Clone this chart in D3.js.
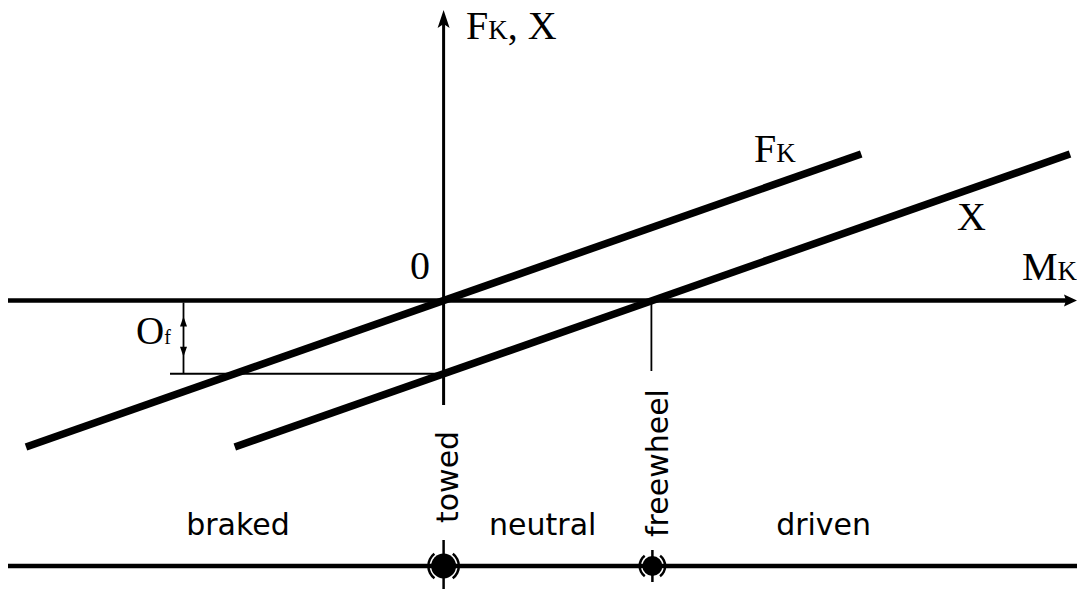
<!DOCTYPE html>
<html>
<head>
<meta charset="utf-8">
<script src="https://cdn.jsdelivr.net/npm/d3@7"></script>
<style>
  html, body { margin: 0; padding: 0; background: #fff; }
  svg { display: block; }
</style>
</head>
<body>
<svg id="chart" width="1077" height="589"></svg>
<script>
// Traction force F_K and longitudinal reaction X against wheel torque M_K
const fkPoints = [[-4, -2], [4, 2]];      // F_K line
const xPoints  = [[-2, -2], [6, 2]];      // X line, shifted down by O_f
const offsetOf = 1;                        // rolling-resistance offset O_f
const modeNames   = ["braked", "neutral", "driven"];
const modeCenters = [-1.97, 0.95, 3.64];
const boundaryNames = ["towed", "freewheel"];
const boundaryM     = [0, 2];

const svg = d3.select("#chart");
const x = d3.scaleLinear().domain([-4, 6]).range([26, 1070]);
const y = d3.scaleLinear().domain([-2, 2]).range([447, 154]);
const line = d3.line().x(d => x(d[0])).y(d => y(d[1]));

const serif = "'Liberation Serif', 'Times New Roman', serif";
const sans = "'DejaVu Sans', Verdana, sans-serif";

// horizontal M_K axis with arrow
const axisY = y(0);
svg.append("line").attr("x1", 8).attr("x2", 1068).attr("y1", axisY).attr("y2", axisY)
  .attr("stroke", "#000").attr("stroke-width", 4.5);
svg.append("path")
  .attr("d", `M1077,${axisY} L1064,${axisY - 6} L1066,${axisY} L1064,${axisY + 6} Z`)
  .attr("fill", "#000");

// vertical F_K, X axis with arrow
const axisX = x(0);
svg.append("line").attr("x1", axisX).attr("x2", axisX).attr("y1", 24).attr("y2", 405)
  .attr("stroke", "#000").attr("stroke-width", 3);
svg.append("path")
  .attr("d", `M${axisX},10 L${axisX - 6},28 L${axisX},24 L${axisX + 6},28 Z`)
  .attr("fill", "#000");

// O_f reference line and dimension
const ofY = y(-offsetOf);
svg.append("line").attr("x1", 170).attr("x2", axisX).attr("y1", ofY).attr("y2", ofY)
  .attr("stroke", "#000").attr("stroke-width", 2);
const dimX = 183.5;
svg.append("line").attr("x1", dimX).attr("x2", dimX).attr("y1", axisY + 2).attr("y2", ofY)
  .attr("stroke", "#000").attr("stroke-width", 1.8);
svg.append("path")
  .attr("d", `M${dimX},${axisY + 16} L${dimX - 3.5},${axisY + 26} L${dimX + 3.5},${axisY + 26} Z`)
  .attr("fill", "#000");
svg.append("path")
  .attr("d", `M${dimX},${ofY - 17} L${dimX - 3.5},${ofY - 27} L${dimX + 3.5},${ofY - 27} Z`)
  .attr("fill", "#000");

// freewheel drop line from the X intercept
svg.append("line").attr("x1", x(boundaryM[1]) - 1).attr("x2", x(boundaryM[1]) - 1)
  .attr("y1", axisY).attr("y2", 371)
  .attr("stroke", "#000").attr("stroke-width", 1.8);

// the two characteristic lines
[fkPoints, xPoints].forEach(pts => {
  svg.append("path").attr("d", line(pts))
    .attr("fill", "none").attr("stroke", "#000").attr("stroke-width", 7.5);
});

// serif labels
function kLabel(px, py, main, sub, size, subSize, extra) {
  const t = svg.append("text").attr("x", px).attr("y", py)
    .attr("font-family", serif).attr("font-size", size).attr("fill", "#000");
  t.append("tspan").text(main);
  t.append("tspan").attr("font-size", subSize).text(sub);
  if (extra) t.append("tspan").text(extra);
  return t;
}
kLabel(466, 39, "F", "K", 40, 27, ", X");
kLabel(754, 162, "F", "K", 40, 27);
kLabel(1022, 280, "M", "K", 40, 27);
svg.append("text").attr("x", 957).attr("y", 230).attr("font-family", serif)
  .attr("font-size", 40).text("X");
svg.append("text").attr("x", 410).attr("y", 279).attr("font-family", serif)
  .attr("font-size", 40).text("0");
const of = svg.append("text").attr("x", 136).attr("y", 344).attr("font-family", serif)
  .attr("font-size", 39);
of.append("tspan").text("O");
of.append("tspan").attr("font-size", 20).text("f");

// operating modes along the bottom
svg.selectAll("text.mode").data(modeNames).join("text")
  .attr("class", "mode")
  .attr("x", (d, i) => x(modeCenters[i]))
  .attr("y", 535)
  .attr("text-anchor", "middle")
  .attr("font-family", sans).attr("font-size", 30)
  .text(d => d);

const bottomY = 566;
svg.append("line").attr("x1", 8).attr("x2", 1077).attr("y1", bottomY).attr("y2", bottomY)
  .attr("stroke", "#000").attr("stroke-width", 4.5);

// boundary labels, rotated
const labelBase = [523, 537];
svg.selectAll("text.bound").data(boundaryNames).join("text")
  .attr("class", "bound")
  .attr("transform", (d, i) => `translate(${x(boundaryM[i]) + (i ? 16 : 14)},${labelBase[i]}) rotate(-90)`)
  .attr("font-family", sans).attr("font-size", 30)
  .text(d => d);

// boundary markers on the mode line
const markerR = [12.5, 10];
const tickSpan = [[540, 589], [550, 582]];
boundaryM.forEach((m, i) => {
  const cx = x(m), r = markerR[i];
  svg.append("line").attr("x1", cx).attr("x2", cx)
    .attr("y1", tickSpan[i][0]).attr("y2", tickSpan[i][1])
    .attr("stroke", "#000").attr("stroke-width", 2.5);
  svg.append("circle").attr("cx", cx).attr("cy", bottomY).attr("r", r).attr("fill", "#000");
  const arc = d3.arc().innerRadius(r + 1.5).outerRadius(r + 4);
  [[-2.5, -0.65], [0.65, 2.5]].forEach(([a0, a1]) => {
    svg.append("path")
      .attr("transform", `translate(${cx},${bottomY})`)
      .attr("d", arc({startAngle: a0, endAngle: a1}))
      .attr("fill", "#000");
  });
});
</script>
</body>
</html>
